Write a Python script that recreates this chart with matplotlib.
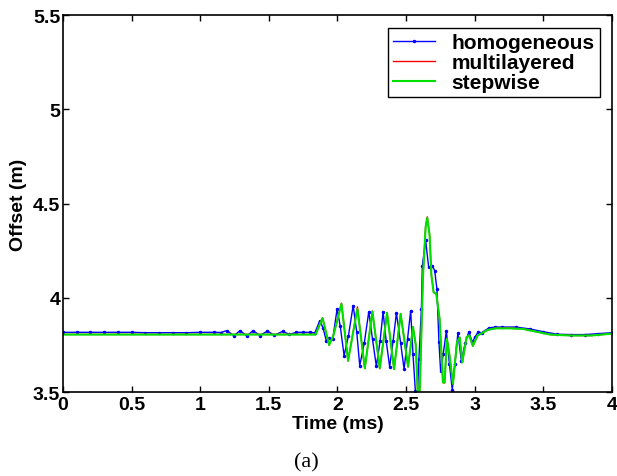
import matplotlib
matplotlib.use("Agg")
import matplotlib.pyplot as plt

plt.rcParams['font.family'] = ['Liberation Sans', 'DejaVu Sans']
plt.rcParams['font.weight'] = 'bold'
plt.rcParams['axes.labelweight'] = 'bold'
plt.rcParams['font.size'] = 14

# homogeneous model (blue, dotted markers)
t_hom = [0, 0.1, 0.2, 0.3, 0.4, 0.5, 0.6, 0.7, 0.8, 0.9, 1.0, 1.1, 1.15,
         1.195, 1.245, 1.29, 1.34, 1.385, 1.435, 1.49, 1.54, 1.60, 1.65,
         1.70, 1.75, 1.80, 1.835, 1.871, 1.895, 1.918, 1.94, 1.965, 1.997,
         2.02, 2.048, 2.08, 2.114, 2.14, 2.162, 2.195, 2.228, 2.255, 2.283,
         2.31, 2.332, 2.355, 2.38, 2.405, 2.429, 2.46, 2.485, 2.51, 2.533,
         2.55, 2.567, 2.578, 2.593, 2.611, 2.618, 2.642, 2.664, 2.69, 2.708,
         2.724, 2.739, 2.751, 2.77, 2.793, 2.815, 2.836, 2.855, 2.877, 2.902,
         2.93, 2.957, 2.982, 3.0, 3.023, 3.05, 3.102, 3.15, 3.2, 3.3, 3.4,
         3.5, 3.6, 3.7, 3.8, 3.9, 4.0]
y_hom = [3.817, 3.817, 3.817, 3.817, 3.817, 3.817, 3.815, 3.815, 3.815, 3.815,
         3.817, 3.817, 3.816, 3.826, 3.799, 3.826, 3.798, 3.826, 3.800, 3.824,
         3.801, 3.822, 3.806, 3.817, 3.817, 3.817, 3.814, 3.879, 3.84, 3.773,
         3.785, 3.78, 3.94, 3.85, 3.693, 3.80, 3.959, 3.82, 3.64, 3.76, 3.927,
         3.78, 3.637, 3.77, 3.925, 3.77, 3.634, 3.77, 3.92, 3.76, 3.622, 3.78,
         3.932, 3.70, 3.507, 3.42, 3.675, 3.94, 4.17, 4.305, 4.163, 4.17,
         4.145, 4.048, 3.764, 3.613, 3.70, 3.826, 3.65, 3.512, 3.65, 3.814,
         3.667, 3.76, 3.82, 3.764, 3.79, 3.817, 3.815, 3.84, 3.845, 3.845,
         3.845, 3.835, 3.82, 3.807, 3.805, 3.805, 3.81, 3.815]

# stepwise model (green) and multilayered model (red, nearly identical)
t_step = [0, 1.0, 1.8, 1.84, 1.891, 1.939, 1.97, 2.029, 2.077, 2.145, 2.199,
          2.254, 2.308, 2.361, 2.412, 2.46, 2.514, 2.55, 2.57, 2.59, 2.60,
          2.623, 2.642, 2.654, 2.671, 2.684, 2.70, 2.72, 2.744, 2.768, 2.78,
          2.797, 2.815, 2.841, 2.87, 2.89, 2.909, 2.94, 2.96, 2.986, 3.02,
          3.095, 3.15, 3.25, 3.35, 3.45, 3.55, 3.7, 3.85, 4.0]
y_step = [3.805, 3.805, 3.805, 3.805, 3.892, 3.75, 3.80, 3.968, 3.667, 3.941,
          3.626, 3.927, 3.626, 3.92, 3.622, 3.915, 3.635, 3.845, 3.75, 3.40,
          3.53, 4.119, 4.376, 4.424, 4.33, 4.119, 4.03, 4.02, 3.888, 3.552,
          3.55, 3.782, 3.70, 3.543, 3.764, 3.79, 3.658, 3.79, 3.80, 3.745,
          3.80, 3.83, 3.838, 3.838, 3.835, 3.82, 3.805, 3.80, 3.80, 3.81]
y_multi = [3.806, 3.806, 3.806, 3.806, 3.895, 3.748, 3.80, 3.972, 3.664, 3.952,
           3.624, 3.930, 3.624, 3.922, 3.620, 3.917, 3.633, 3.847, 3.75, 3.40,
           3.53, 4.122, 4.380, 4.430, 4.334, 4.121, 4.03, 4.02, 3.886, 3.550,
           3.548, 3.784, 3.70, 3.541, 3.766, 3.79, 3.656, 3.792, 3.80, 3.744,
           3.80, 3.83, 3.839, 3.839, 3.836, 3.82, 3.805, 3.80, 3.80, 3.81]

fig = plt.figure(figsize=(6.17, 4.77), dpi=100)
ax = fig.add_axes([0.102, 0.176, 0.890, 0.790])

ax.plot(t_hom, y_hom, color='#0000ff', lw=1.0, marker='.', markersize=3,
        label='homogeneous')
ax.plot(t_step, y_multi, color='#ff0000', lw=1.0, label='multilayered')
ax.plot(t_step, y_step, color='#00e000', lw=1.5, label='stepwise')

ax.set_xlim(0, 4)
ax.set_ylim(3.5, 5.5)
ax.set_xticks([0, 0.5, 1, 1.5, 2, 2.5, 3, 3.5, 4])
ax.set_xticklabels(['0', '0.5', '1', '1.5', '2', '2.5', '3', '3.5', '4'])
ax.set_yticks([3.5, 4, 4.5, 5, 5.5])
ax.set_yticklabels(['3.5', '4', '4.5', '5', '5.5'])
ax.tick_params(direction='in', top=True, right=True, length=4, width=1)
ax.tick_params(axis='x', pad=3)
ax.tick_params(axis='y', pad=2)
for s in ax.spines.values():
    s.set_linewidth(1.2)

ax.set_xlabel('Time (ms)', labelpad=1)
ax.set_ylabel('Offset (m)', labelpad=4)

leg = ax.legend(loc='upper right', fancybox=False, framealpha=1,
                edgecolor='black', handlelength=2.0, borderaxespad=0.6,
                labelspacing=0.05, handletextpad=0.8, borderpad=0.25,
                prop={'size': 15, 'weight': 'bold'})
leg.get_frame().set_linewidth(1.0)

fig.text(0.497, 0.03, '(a)', family=['Liberation Serif'], weight='normal',
         size=16, ha='center', va='center')

fig.savefig('out.png', dpi=100)
